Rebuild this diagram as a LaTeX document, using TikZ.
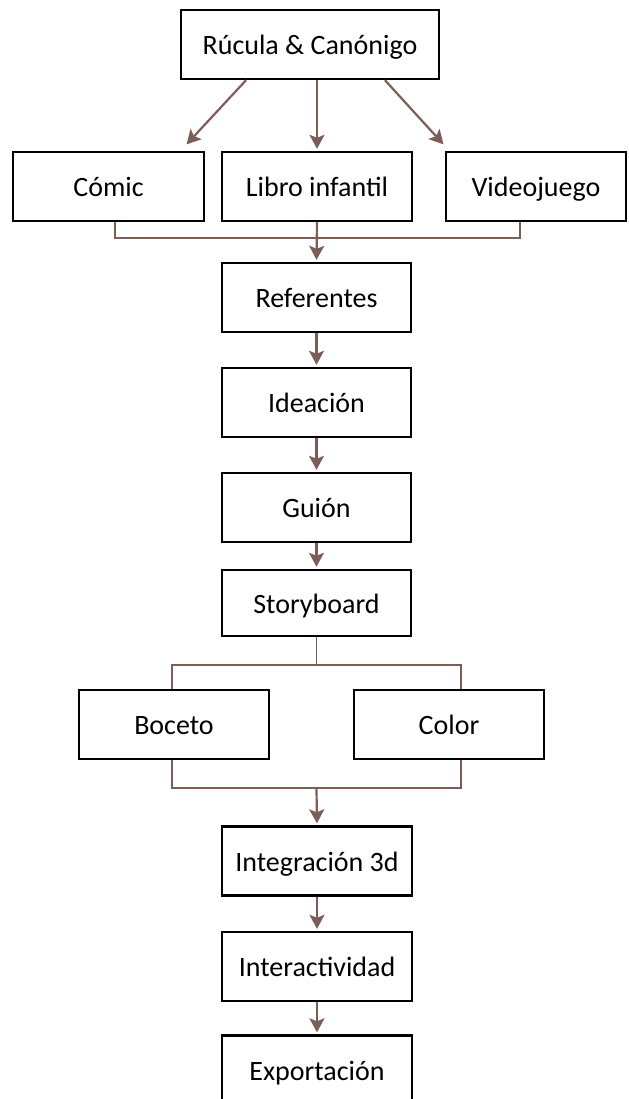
\documentclass[tikz,border=0pt]{standalone}
\usepackage{fontspec}
\setmainfont{Carlito}
\usepackage{tikz}
\usetikzlibrary{arrows.meta, calc}
\definecolor{figK}{RGB}{0,0,0}
\definecolor{figL}{RGB}{124,94,88}

\begin{document}
\begin{tikzpicture}[x=0.5pt, y=-0.5pt,
  stepbox/.style={draw=figK, line width=1.2pt, inner sep=0pt, minimum height=34.5pt,
    text height=11.5pt, text depth=1.5pt, font=\fontsize{14}{16}\selectfont},
  arr/.style={-{Stealth[length=7pt, width=7.5pt, inset=1.5pt]}, figL, line width=1.1pt, shorten >=1pt},
  link/.style={figL, line width=0.9pt}]
\clip (0,0) rectangle (628,1099);
% Top: project and its three outputs
\node[stepbox, minimum width=129pt] (top) at (310,44.5) {Rúcula \& Canónigo};
\node[stepbox, minimum width=95.5pt] (comic) at (108.5,186.5) {Cómic};
\node[stepbox, minimum width=95pt] (libro) at (317,186.5) {Libro infantil};
\node[stepbox, minimum width=90pt] (video) at (536,186.5) {Videojuego};
\draw[arr] ($(top.south)+(-64,0)$) -- ($(comic.north east)+(-20,-5)$);
\draw[arr] (top.south -| libro.north) -- (libro.north);
\draw[arr] ($(top.south)+(75,0)$) -- ($(video.north west)+(0,-5)$);
% Join into the vertical chain
\coordinate (joinA) at (115,238);
\coordinate (joinB) at (520,238);
\draw[link] (comic.south -| joinA) -- (joinA) -- (joinB) -- (video.south -| joinB);
\node[stepbox, minimum width=94.5pt] (ref) at (316.5,297.5) {Referentes};
\node[stepbox, minimum width=94.5pt] (idea) at (316.5,402.5) {Ideación};
\node[stepbox, minimum width=94.5pt] (guion) at (316.5,507.5) {Guión};
\node[stepbox, minimum width=94.5pt, minimum height=33pt] (story) at (316.5,603) {Storyboard};
\draw[arr] (libro.south) -- (ref.north);
\draw[arr] (ref) -- (idea);
\draw[arr] (idea) -- (guion);
\draw[arr] (guion) -- (story);
% Split into sketch and colour, then join again
\node[stepbox, minimum width=95pt] (boceto) at (174,724.5) {Boceto};
\node[stepbox, minimum width=95pt] (color) at (449,724.5) {Color};
\coordinate (splitL) at (172,665);
\coordinate (splitR) at (461,665);
\draw[link] (story.south) -- (story.south |- splitL);
\draw[link] (boceto.north -| splitL) -- (splitL) -- (splitR) -- (color.north -| splitR);
\coordinate (mergeL) at (172,788);
\coordinate (mergeR) at (461,788);
\draw[link] (boceto.south -| mergeL) -- (mergeL) -- (mergeR) -- (color.south -| mergeR);
% Bottom chain
\node[stepbox, minimum width=95pt] (integ) at (317,861) {Integración 3d};
\node[stepbox, minimum width=95pt] (inter) at (317,966.5) {Interactividad};
\node[stepbox, minimum width=95pt] (export) at (317,1070) {Exportación};
\draw[arr] (story.south |- mergeL) -- (integ.north);
\draw[arr] (integ) -- (inter);
\draw[arr] (inter) -- (export);
\end{tikzpicture}
\end{document}
